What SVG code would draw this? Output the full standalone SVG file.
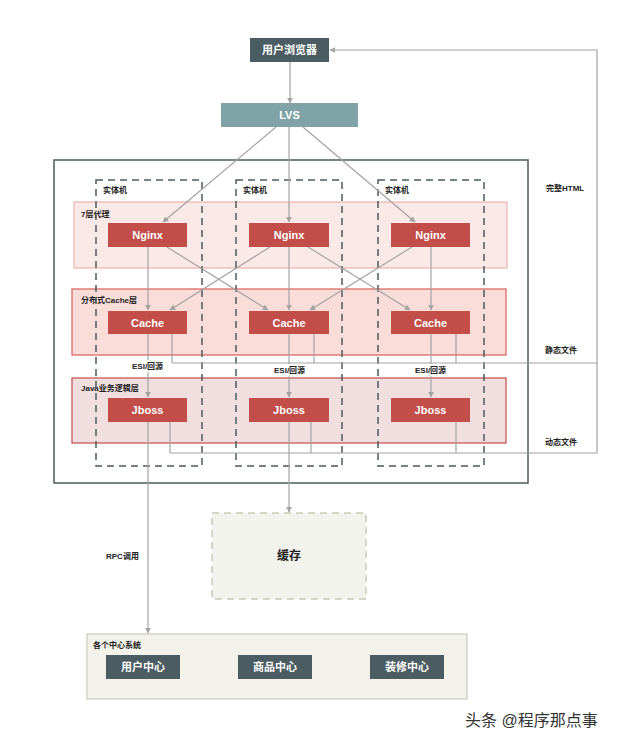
<svg xmlns="http://www.w3.org/2000/svg" width="640" height="740" viewBox="0 0 640 740">
<defs>
<style>
text{font-family:"Liberation Sans","Noto Sans CJK SC",sans-serif;}
.dark{fill:#4b5c62;}
.red{fill:#c24d49;}
.ntext{fill:#ffffff;font-size:11px;font-weight:bold;text-anchor:middle;}
.lbl{fill:#222;font-size:8px;font-weight:bold;}
.halo{paint-order:stroke;stroke:#ffffff;stroke-width:4px;}
.conn{stroke:#a3a3a3;stroke-width:1.2;fill:none;}
.dash{fill:none;stroke:#4b5c5e;stroke-width:1.5;stroke-dasharray:7 5;}
</style>
<marker id="ah" viewBox="0 0 10 10" refX="9" refY="5" markerWidth="6" markerHeight="6" orient="auto-start-reverse" markerUnits="userSpaceOnUse">
<path d="M0,0 L10,5 L0,10 z" fill="#a3a3a3"/>
</marker>
</defs>
<rect width="640" height="740" fill="#ffffff"/>

<g id="outer-frame">
<rect x="54" y="160" width="474" height="323" fill="#ffffff" stroke="#4b5c5e" stroke-width="1.5"/>
</g>

<g id="layer-7">
<rect x="74" y="202" width="433" height="66" fill="#fbe9e7" stroke="#e9b3ad" stroke-width="1.2"/>
<text class="lbl" x="81" y="217">7层代理</text>
</g>
<g id="layer-cache">
<rect x="72" y="289" width="434" height="66" fill="#fadcd9" stroke="#d9605b" stroke-width="1.2"/>
<text class="lbl" x="81" y="303">分布式Cache层</text>
</g>
<g id="layer-java">
<rect x="72" y="378" width="434" height="65" fill="#f1dfdf" stroke="#c24d49" stroke-width="1.2"/>
<text class="lbl" x="81" y="391">Java业务逻辑层</text>
</g>

<g id="machine-1">
<rect class="dash" x="96" y="180" width="106" height="286"/>
<text class="lbl" x="103" y="193">实体机</text>
</g>
<g id="machine-2">
<rect class="dash" x="236" y="180" width="106" height="286"/>
<text class="lbl" x="243" y="193">实体机</text>
</g>
<g id="machine-3">
<rect class="dash" x="378" y="180" width="106" height="286"/>
<text class="lbl" x="385" y="193">实体机</text>
</g>

<g id="connectors">
<line class="conn" x1="290" y1="62" x2="290" y2="103" marker-end="url(#ah)"/>
<line class="conn" x1="276" y1="127" x2="163" y2="222" marker-end="url(#ah)"/>
<line class="conn" x1="289" y1="127" x2="289" y2="222" marker-end="url(#ah)"/>
<line class="conn" x1="303" y1="127" x2="415" y2="222" marker-end="url(#ah)"/>

<line class="conn" x1="148" y1="247" x2="148" y2="310" marker-end="url(#ah)"/>
<line class="conn" x1="289" y1="247" x2="289" y2="310" marker-end="url(#ah)"/>
<line class="conn" x1="431" y1="247" x2="431" y2="310" marker-end="url(#ah)"/>
<line class="conn" x1="167" y1="247" x2="268" y2="310" marker-end="url(#ah)"/>
<line class="conn" x1="270" y1="247" x2="170" y2="310" marker-end="url(#ah)"/>
<line class="conn" x1="308" y1="247" x2="410" y2="310" marker-end="url(#ah)"/>
<line class="conn" x1="412" y1="247" x2="310" y2="310" marker-end="url(#ah)"/>

<line class="conn" x1="148" y1="334" x2="148" y2="397" marker-end="url(#ah)"/>
<line class="conn" x1="289" y1="334" x2="289" y2="397" marker-end="url(#ah)"/>
<line class="conn" x1="431" y1="334" x2="431" y2="397" marker-end="url(#ah)"/>

<polyline class="conn" points="172,334 172,363"/>
<polyline class="conn" points="314,334 314,363"/>
<polyline class="conn" points="456,334 456,363"/>
<polyline class="conn" points="172,363 597,363"/>

<polyline class="conn" points="170,422 170,453"/>
<polyline class="conn" points="311,422 311,453"/>
<polyline class="conn" points="456,422 456,453"/>
<polyline class="conn" points="170,453 597,453 597,50 330,50" marker-end="url(#ah)"/>

<line class="conn" x1="289" y1="422" x2="289" y2="512" marker-end="url(#ah)"/>
<line class="conn" x1="148" y1="422" x2="148" y2="633" marker-end="url(#ah)"/>

<text class="lbl halo" x="132" y="369">ESI/回源</text>
<text class="lbl halo" x="274" y="373">ESI/回源</text>
<text class="lbl halo" x="415" y="373">ESI/回源</text>
<text class="lbl" x="546" y="191">完整HTML</text>
<text class="lbl" x="545" y="353">静态文件</text>
<text class="lbl" x="545" y="445">动态文件</text>
<text class="lbl" x="106" y="559">RPC调用</text>
</g>

<g id="browser">
<rect class="dark" x="250" y="38" width="79" height="24"/>
<text class="ntext" x="289.5" y="54">用户浏览器</text>
</g>
<g id="lvs">
<rect x="221" y="103" width="137" height="24" fill="#7fa3a7"/>
<text class="ntext" x="289.5" y="119">LVS</text>
</g>

<g id="nginx-1"><rect class="red" x="108" y="223" width="79" height="24"/><text class="ntext" x="147.5" y="239">Nginx</text></g>
<g id="nginx-2"><rect class="red" x="249" y="223" width="80" height="24"/><text class="ntext" x="289" y="239">Nginx</text></g>
<g id="nginx-3"><rect class="red" x="391" y="223" width="79" height="24"/><text class="ntext" x="430.5" y="239">Nginx</text></g>

<g id="cache-1"><rect class="red" x="108" y="311" width="79" height="23"/><text class="ntext" x="147.5" y="327">Cache</text></g>
<g id="cache-2"><rect class="red" x="249" y="311" width="80" height="23"/><text class="ntext" x="289" y="327">Cache</text></g>
<g id="cache-3"><rect class="red" x="391" y="311" width="79" height="23"/><text class="ntext" x="430.5" y="327">Cache</text></g>

<g id="jboss-1"><rect class="red" x="108" y="398" width="79" height="24"/><text class="ntext" x="147.5" y="414">Jboss</text></g>
<g id="jboss-2"><rect class="red" x="249" y="398" width="80" height="24"/><text class="ntext" x="289" y="414">Jboss</text></g>
<g id="jboss-3"><rect class="red" x="391" y="398" width="79" height="24"/><text class="ntext" x="430.5" y="414">Jboss</text></g>

<g id="cache-store">
<rect x="212" y="513" width="154" height="86" fill="#f3f3ed" stroke="#c9ccb9" stroke-width="1.5" stroke-dasharray="7 5"/>
<text x="289" y="560" font-size="12" font-weight="bold" fill="#222" text-anchor="middle">缓存</text>
</g>

<g id="centers">
<rect x="87" y="634" width="380" height="65" fill="#f3f3ec" stroke="#c9cbb9" stroke-width="1.2"/>
<text class="lbl" x="93" y="648">各个中心系统</text>
</g>
<g id="user-center"><rect class="dark" x="106" y="655" width="74" height="24"/><text class="ntext" x="143" y="671">用户中心</text></g>
<g id="goods-center"><rect class="dark" x="238" y="655" width="74" height="24"/><text class="ntext" x="275" y="671">商品中心</text></g>
<g id="deco-center"><rect class="dark" x="370" y="655" width="74" height="24"/><text class="ntext" x="407" y="671">装修中心</text></g>

<text x="465" y="726" font-size="16" fill="#333">头条 @程序那点事</text>
</svg>
